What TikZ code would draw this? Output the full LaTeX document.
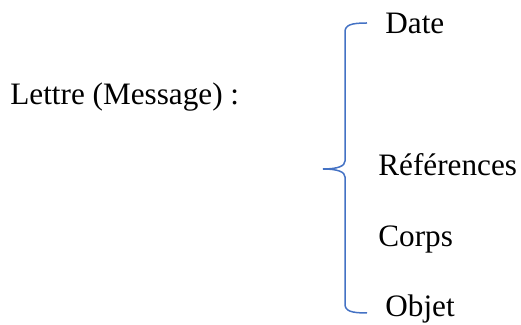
\documentclass[tikz,border=0pt]{standalone}
\usepackage{fontspec}
\setmainfont{Liberation Serif}
\usepackage{tikz}
\usetikzlibrary{positioning}
\definecolor{bracblue}{RGB}{68,114,196}
\tikzset{
  item/.style={anchor=base west, inner sep=0pt, font=\fontsize{15.6}{18}\selectfont},
  bracket/.style={color=bracblue, line width=0.75pt}
}
\begin{document}
\begin{tikzpicture}[x=0.5pt, y=-0.5pt]
\useasboundingbox (0,0) rectangle (521,325);
% title
\node[item] (lettre) at (10,105) {Lettre (Message) :};
% items
\node[item] (date)  at (385,34)  {Date};
\node[item] (refs)  at (378,176) {Références};
\node[item] (corps) at (378,247) {Corps};
\node[item] (objet) at (385,317) {Objet};
% brace
\coordinate (btop) at (367,23);
\coordinate (btip) at (323,169);
\coordinate (bbot) at (367,313);
\draw[bracket] (btop) .. controls (351,23) and (345,25) .. (345,32)
  -- (345,161) .. controls (345,166) and (338,169) .. (btip)
  .. controls (338,169) and (345,172) .. (345,177)
  -- (345,304) .. controls (345,311) and (351,313) .. (bbot);
\end{tikzpicture}
\end{document}
